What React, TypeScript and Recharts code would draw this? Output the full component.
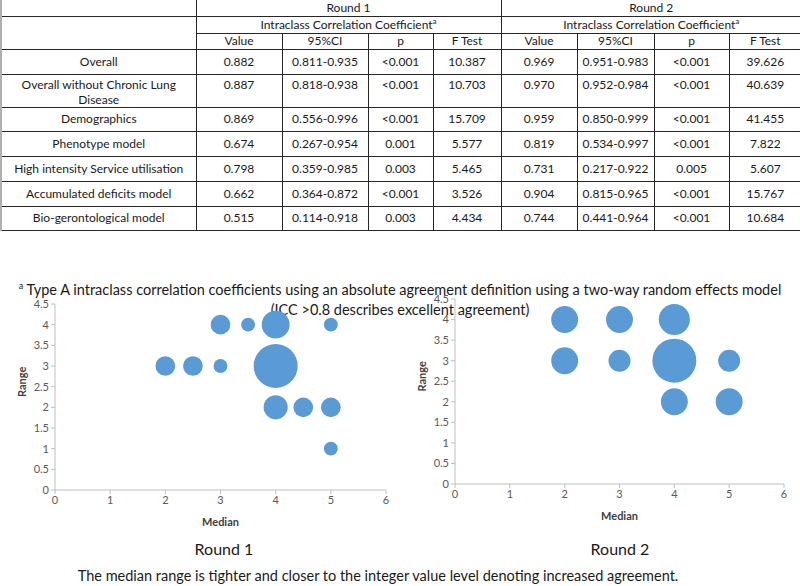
import React from "react";
import { ScatterChart, Scatter, XAxis, YAxis, ZAxis } from "recharts";

// table rows
const rowLabels = [
  "Overall",
  "Overall without Chronic Lung\nDisease",
  "Demographics",
  "Phenotype model",
  "High intensity Service utilisation",
  "Accumulated deficits model",
  "Bio-gerontological model",
];
const r1Value = ["0.882", "0.887", "0.869", "0.674", "0.798", "0.662", "0.515"];
const r1CI = ["0.811-0.935", "0.818-0.938", "0.556-0.996", "0.267-0.954", "0.359-0.985", "0.364-0.872", "0.114-0.918"];
const r1P = ["<0.001", "<0.001", "<0.001", "0.001", "0.003", "<0.001", "0.003"];
const r1F = ["10.387", "10.703", "15.709", "5.577", "5.465", "3.526", "4.434"];
const r2Value = ["0.969", "0.970", "0.959", "0.819", "0.731", "0.904", "0.744"];
const r2CI = ["0.951-0.983", "0.952-0.984", "0.850-0.999", "0.534-0.997", "0.217-0.922", "0.815-0.965", "0.441-0.964"];
const r2P = ["<0.001", "<0.001", "<0.001", "<0.001", "0.005", "<0.001", "<0.001"];
const r2F = ["39.626", "40.639", "41.455", "7.822", "5.607", "15.767", "10.684"];
const subHeaders = ["Value", "95%CI", "p", "F Test"];

// bubbles: median, range, number of responses
const round1Median = [2, 2.5, 3, 3, 3.5, 4, 5, 4, 4, 4.5, 5, 5];
const round1Range = [3, 3, 3, 4, 4, 4, 4, 3, 2, 2, 2, 1];
const round1Count = [2, 2, 1, 2, 1, 4, 1, 10, 3, 2, 2, 1];
const round2Median = [2, 3, 4, 2, 3, 4, 5, 4, 5];
const round2Range = [4, 4, 4, 3, 3, 3, 3, 2, 2];
const round2Count = [3, 3, 4, 3, 2, 8, 2, 3, 3];

const xTicks = [0, 1, 2, 3, 4, 5, 6];
const yTicks = [0, 0.5, 1, 1.5, 2, 2.5, 3, 3.5, 4, 4.5];

const FONT = "Lato, 'Open Sans', sans-serif";
const BLUE = "#5B9BD5";
const AXIS = "#BFBFBF";
const MAX_AREA = Math.PI * 22 * 22;

const colW = [195, 86, 86, 65, 68, 76, 77, 75, 72];
const rowH = [25, 32, 24, 25, 25, 25, 24];

const cell: React.CSSProperties = {
  border: "1px solid #262626",
  padding: 0,
  textAlign: "center",
  verticalAlign: "middle",
  lineHeight: "14px",
  whiteSpace: "pre-line",
};

const supStyle: React.CSSProperties = { fontSize: 8, lineHeight: 0 };

function toPoints(m: number[], r: number[], c: number[]) {
  return m.map((x, i) => ({ median: x, range: r[i], count: c[i] }));
}

function Bubble({ data, maxCount, plotW, height }: { data: any[]; maxCount: number; plotW: number; height: number }) {
  return (
    <ScatterChart width={400} height={height} margin={{ top: 14, right: 400 - 55 - plotW, bottom: 0, left: 0 }}>
      <XAxis
        type="number"
        dataKey="median"
        domain={[0, 6]}
        ticks={xTicks}
        height={40}
        stroke={AXIS}
        tickSize={4}
        tick={{ fill: "#595959", fontSize: 11, fontFamily: FONT }}
        label={{ value: "Median", position: "insideBottom", offset: 4, fill: "#404040", fontSize: 11, fontWeight: 700, fontFamily: FONT }}
      />
      <YAxis
        type="number"
        dataKey="range"
        domain={[0, 4.5]}
        ticks={yTicks}
        width={55}
        stroke={AXIS}
        tickSize={4}
        tick={{ fill: "#595959", fontSize: 11, fontFamily: FONT }}
        label={{ value: "Range", angle: -90, position: "insideLeft", offset: 22, fill: "#404040", fontSize: 11, fontWeight: 700, fontFamily: FONT }}
      />
      <ZAxis type="number" dataKey="count" domain={[0, maxCount]} range={[0, MAX_AREA]} />
      <Scatter data={data} fill={BLUE} isAnimationActive={false} />
    </ScatterChart>
  );
}

export default function App() {
  const r1 = [r1Value, r1CI, r1P, r1F];
  const r2 = [r2Value, r2CI, r2P, r2F];
  const leftEdge = "2px solid #b0b0b0";
  return (
    <div style={{ position: "absolute", left: 0, top: 0, width: 800, height: 586, background: "#fff", fontFamily: FONT, color: "#1a1a1a", overflow: "hidden" }}>
      <table style={{ position: "absolute", left: 0, top: 0, borderCollapse: "collapse", tableLayout: "fixed", width: 800, fontSize: 12 }}>
        <colgroup>
          {colW.map((w, i) => (
            <col key={i} style={{ width: w }} />
          ))}
        </colgroup>
        <tbody>
          <tr style={{ height: 16 }}>
            <td style={{ ...cell, borderTop: "none", borderLeft: leftEdge }} />
            <td colSpan={4} style={{ ...cell, borderTop: "none" }}>Round 1</td>
            <td colSpan={4} style={{ ...cell, borderTop: "none", borderRight: "none" }}>Round 2</td>
          </tr>
          <tr style={{ height: 17 }}>
            <td rowSpan={2} style={{ ...cell, borderLeft: leftEdge }} />
            <td colSpan={4} style={cell}>
              Intraclass Correlation Coefficient<sup style={supStyle}>a</sup>
            </td>
            <td colSpan={4} style={{ ...cell, borderRight: "none" }}>
              Intraclass Correlation Coefficient<sup style={supStyle}>a</sup>
            </td>
          </tr>
          <tr style={{ height: 16 }}>
            {[...subHeaders, ...subHeaders].map((h, i) => (
              <td key={i} style={i === 7 ? { ...cell, borderRight: "none" } : cell}>{h}</td>
            ))}
          </tr>
          {rowLabels.map((label, ri) => {
            const va = ri === 1 ? "top" : "middle";
            const pt = ri === 1 ? 2 : 0;
            const lh = ri === 1 ? "15px" : "14px";
            return (
              <tr key={label} style={{ height: rowH[ri] }}>
                <td style={{ ...cell, borderLeft: leftEdge, padding: "0 2px", verticalAlign: va, paddingTop: pt, lineHeight: lh }}>{label}</td>
                {[...r1, ...r2].map((col, ci) => (
                  <td key={ci} style={{ ...cell, borderRight: ci === 7 ? "none" : cell.border, verticalAlign: va, paddingTop: pt, lineHeight: lh }}>
                    {col[ri]}
                  </td>
                ))}
              </tr>
            );
          })}
        </tbody>
      </table>

      <div style={{ position: "absolute", left: 0, top: 280, width: 800, textAlign: "center", fontSize: 14.5, lineHeight: "20px", whiteSpace: "nowrap" }}>
        <sup style={{ fontSize: 9, lineHeight: 0 }}>a</sup> Type A intraclass correlation coefficients using an absolute agreement definition using a two-way random effects model
        <br />
        (ICC &gt;0.8 describes excellent agreement)
      </div>

      <div style={{ position: "absolute", left: 0, top: 290 }}>
        <Bubble data={toPoints(round1Median, round1Range, round1Count)} maxCount={10} plotW={331} height={240} />
      </div>
      <div style={{ position: "absolute", left: 400, top: 285 }}>
        <Bubble data={toPoints(round2Median, round2Range, round2Count)} maxCount={8} plotW={329} height={239} />
      </div>

      <div style={{ position: "absolute", left: 124, top: 539, width: 200, textAlign: "center", fontSize: 16, lineHeight: "20px" }}>Round 1</div>
      <div style={{ position: "absolute", left: 520, top: 539, width: 200, textAlign: "center", fontSize: 16, lineHeight: "20px" }}>Round 2</div>
      <div style={{ position: "absolute", left: 0, top: 566, width: 756, textAlign: "center", fontSize: 14.5, lineHeight: "20px", whiteSpace: "nowrap" }}>
        The median range is tighter and closer to the integer value level denoting increased agreement.
      </div>
    </div>
  );
}
